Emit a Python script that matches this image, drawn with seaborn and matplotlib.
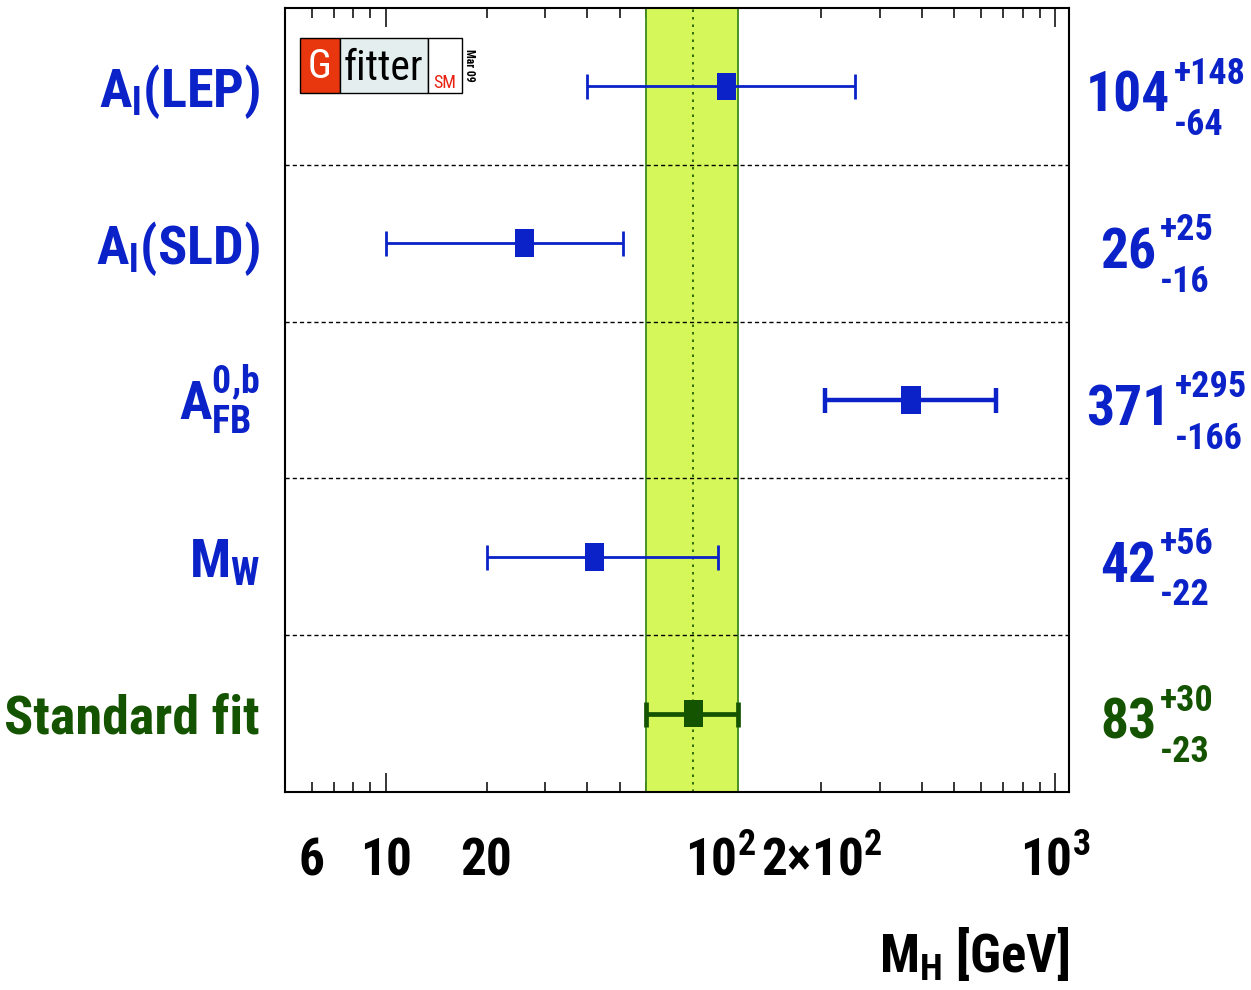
import numpy as np
import pandas as pd
import matplotlib
matplotlib.use("Agg")
import matplotlib.pyplot as plt
import seaborn as sns
from matplotlib import font_manager, transforms
from matplotlib.patches import Rectangle
from matplotlib.ticker import NullFormatter, FixedLocator

# ---------------- data ----------------
measurements = ["A_l(LEP)", "A_l(SLD)", "A_FB^0,b", "M_W", "Standard fit"]
label_tex = [r"$A_l(LEP)$", r"$A_l(SLD)$", r"$A^{0{,}b}_{FB}$", r"$M_W$", "Standard fit"]
central = [104, 26, 371, 42, 83]
err_up = [148, 25, 295, 56, 30]
err_dn = [64, 16, 166, 22, 23]
groups = ["obs", "obs", "obs", "obs", "fit"]

tick_values = [6, 10, 20, 100, 200, 1000]
tick_labels = ["6", "10", "20", r"$10^2$", r"$2{\times}10^2$", r"$10^3$"]
x_label = r"$M_H$ [GeV]"

# ---------------- style ----------------
sns.set_style("white")
names = {f.name for f in font_manager.fontManager.ttflist}
FAM = "Liberation Sans"
for cand in ["Liberation Sans Narrow", "Roboto Condensed", "Liberation Sans"]:
    if cand in names:
        FAM = cand
        break
plt.rcParams["font.family"] = [FAM, "DejaVu Sans"]
plt.rcParams["font.weight"] = "bold"
plt.rcParams["mathtext.fontset"] = "custom"
plt.rcParams["mathtext.rm"] = f"{FAM}:bold"
plt.rcParams["mathtext.it"] = f"{FAM}:bold"
plt.rcParams["mathtext.bf"] = f"{FAM}:bold"
plt.rcParams["mathtext.sf"] = f"{FAM}:bold"
plt.rcParams["mathtext.default"] = "bf"

BLUE = "#0a22c8"
GREEN = "#145400"
LIME = "#d6f75a"
BAND_EDGE = "#3d8a1a"

W, H = 1251, 990
fig = plt.figure(figsize=(W / 100, H / 100), dpi=100)
ax = fig.add_axes([285 / W, 1 - 792 / H, 784 / W, 784 / H])

df = pd.DataFrame({"measurement": measurements, "row": np.arange(len(measurements)),
                   "mh": central, "group": groups})
palette = {"obs": BLUE, "fit": GREEN}

# band of the standard fit
i_fit = groups.index("fit")
ax.axvspan(central[i_fit] - err_dn[i_fit], central[i_fit] + err_up[i_fit],
           facecolor=LIME, edgecolor=BAND_EDGE, lw=1.3, zorder=1)
ax.axvline(central[i_fit], color=GREEN, ls=(0, (1.5, 3)), lw=1.2, zorder=2)

# separators
for y in np.arange(0.5, len(measurements) - 0.5, 1.0):
    ax.axhline(y, color="black", ls=(0, (3, 2.2)), lw=1.0, zorder=3)

# error bars
lws = [2.0, 2.0, 3.2, 2.0, 3.4]
for i in range(len(measurements)):
    col = palette[groups[i]]
    ax.errorbar(central[i], i, xerr=[[err_dn[i]], [err_up[i]]], fmt="none",
                ecolor=col, elinewidth=lws[i], capsize=9, capthick=lws[i], zorder=4)

rect_marker = [(-0.7, -1), (0.7, -1), (0.7, 1), (-0.7, 1), (-0.7, -1)]
sns.scatterplot(data=df, x="mh", y="row", hue="group", palette=palette,
                marker=rect_marker, s=390, linewidth=0, legend=False, ax=ax, zorder=5)

ax.set_xscale("log")
ax.set_xlim(5, 1100)
ax.set_ylim(len(measurements) - 0.5, -0.5)
ax.set_yticks([])
ax.set_xlabel("")
ax.set_ylabel("")
ax.xaxis.set_major_locator(FixedLocator([10, 100, 1000]))
minor = [v for d in (1, 10, 100) for v in np.arange(2, 10) * d if 5 < v < 1100]
ax.xaxis.set_minor_locator(FixedLocator(minor))
ax.xaxis.set_major_formatter(NullFormatter())
ax.xaxis.set_minor_formatter(NullFormatter())
ax.tick_params(axis="x", which="major", direction="in", length=13.5, width=1.1,
               top=True, bottom=True, color="black")
ax.tick_params(axis="x", which="minor", direction="in", length=7, width=1.1,
               top=True, bottom=True, color="black")
for s in ax.spines.values():
    s.set_visible(True)
    s.set_color("black")
    s.set_linewidth(1.5)

# x tick labels
tr = transforms.blended_transform_factory(ax.transData, ax.transAxes)
for v, lab in zip(tick_values, tick_labels):
    ax.text(v, -0.106, lab, transform=tr, ha="center", va="baseline",
            fontsize=37, color="black")

# x axis label
ax.text(1.0, -0.229, x_label, transform=ax.transAxes, ha="right", va="baseline",
        fontsize=38, color="black")

# left labels and right numbers
trl = transforms.blended_transform_factory(ax.transAxes, ax.transData)
for i in range(len(measurements)):
    col = palette[groups[i]]
    ax.text(-0.032, i + 0.13, label_tex[i], transform=trl, ha="right", va="baseline",
            fontsize=39, color=col)
    main = ax.text(1.0753, i + 0.16, f"{central[i]}", transform=trl, ha="center",
                   va="baseline", fontsize=40, color=col)
    ax.annotate(f"+{err_up[i]}", xy=(1, 0), xycoords=main, xytext=(3, 28),
                textcoords="offset points", ha="left", va="baseline",
                fontsize=26, color=col)
    ax.annotate(f"-{err_dn[i]}", xy=(1, 0), xycoords=main, xytext=(3, -9),
                textcoords="offset points", ha="left", va="baseline",
                fontsize=26, color=col)

# Gfitter logo
def fx(x):
    return x / W

def fy(y):
    return 1 - y / H

y0, y1 = 38, 93
fig.add_artist(Rectangle((fx(300), fy(y1)), fx(340) - fx(300), fy(y0) - fy(y1),
                         transform=fig.transFigure, facecolor="#e8360f", edgecolor="black", lw=1))
fig.add_artist(Rectangle((fx(340), fy(y1)), fx(428) - fx(340), fy(y0) - fy(y1),
                         transform=fig.transFigure, facecolor="#e4eeee", edgecolor="black", lw=1))
fig.add_artist(Rectangle((fx(428), fy(y1)), fx(462) - fx(428), fy(y0) - fy(y1),
                         transform=fig.transFigure, facecolor="white", edgecolor="black", lw=1))
fig.text(fx(320), fy(67), "G", ha="center", va="center", fontsize=29,
         color="white", fontweight="normal")
fig.text(fx(383), fy(69), "fitter", ha="center", va="center", fontsize=30,
         color="black", fontweight="normal")
fig.text(fx(445), fy(88), "SM", ha="center", va="baseline", fontsize=13,
         color="#e8200f", fontweight="normal")
fig.text(fx(470), fy(65), "Mar 09", ha="center", va="center", fontsize=8.5,
         rotation=270, color="black", fontweight="bold")

fig.savefig("out.png", dpi=100)
